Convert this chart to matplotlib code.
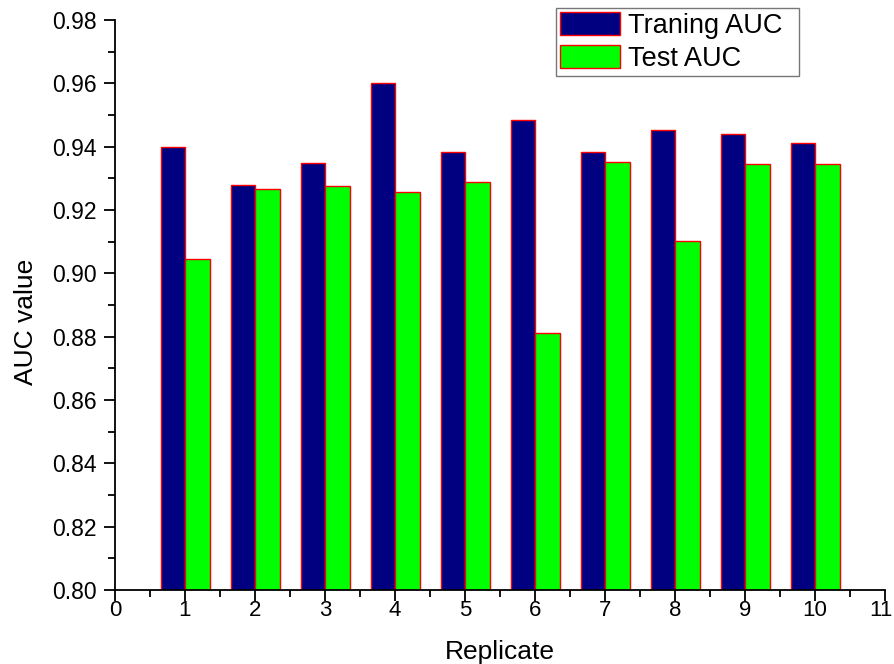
import matplotlib
matplotlib.use("Agg")
import matplotlib.pyplot as plt
import matplotlib.transforms as mtransforms
from matplotlib.ticker import MultipleLocator, FormatStrFormatter
import numpy as np

replicates = [1, 2, 3, 4, 5, 6, 7, 8, 9, 10]
training_auc = [0.940, 0.928, 0.9347, 0.960, 0.9382, 0.9484, 0.9382, 0.9453, 0.9439, 0.9411]
test_auc = [0.9046, 0.9265, 0.9275, 0.9257, 0.9289, 0.8812, 0.9352, 0.9102, 0.9346, 0.9344]
series_names = ["Traning AUC", "Test AUC"]
x_ticks = list(range(0, 12))

plt.rcParams['font.family'] = ['Liberation Sans', 'DejaVu Sans']

fig = plt.figure(figsize=(8.94, 6.64), dpi=100)
ax = fig.add_axes([115/894, 1 - 590/664, (885 - 115)/894, (590 - 20)/664])

x = np.array(replicates, dtype=float)
w = 0.35
ax.bar(x - w/2, training_auc, width=w, color='#000080', edgecolor='#ff0000',
       linewidth=1.0, label=series_names[0], bottom=0)
ax.bar(x + w/2, test_auc, width=w, color='#00ff00', edgecolor='#ff0000',
       linewidth=1.0, label=series_names[1], bottom=0)

ax.set_xlim(0, 11)
ax.set_ylim(0.80, 0.98)
ax.set_xticks(x_ticks)
ax.set_xticklabels([str(t) for t in x_ticks])
ax.xaxis.set_minor_locator(MultipleLocator(0.5))
ax.yaxis.set_major_locator(MultipleLocator(0.02))
ax.yaxis.set_minor_locator(MultipleLocator(0.01))
ax.yaxis.set_major_formatter(FormatStrFormatter('%.2f'))

for s in ['top', 'right']:
    ax.spines[s].set_visible(False)
for s in ['left', 'bottom']:
    ax.spines[s].set_linewidth(1.3)

ax.tick_params(axis='both', which='major', direction='out', length=8, width=1.3)
ax.tick_params(axis='both', which='minor', direction='out', length=5, width=1.3)
ax.tick_params(axis='x', which='major', labelsize=16, pad=-1)
ax.tick_params(axis='y', which='major', labelsize=16.5, pad=5)

ax.set_xlabel('Replicate', fontsize=19, labelpad=14)
ax.set_ylabel('AUC value', fontsize=19, labelpad=10, y=0.47)

# nudge the "11" tick label slightly left so it stays inside the canvas
for lab in ax.get_xticklabels():
    if lab.get_text() == '11':
        lab.set_horizontalalignment('right')
        lab.set_transform(lab.get_transform() +
                          mtransforms.ScaledTranslation(8/100, 0, fig.dpi_scale_trans))

leg = ax.legend(loc='upper left',
                bbox_to_anchor=(556/894, 1 - 75/664, 243/894, 67/664),
                bbox_transform=fig.transFigure, mode='expand', fontsize=19.5,
                frameon=True, fancybox=False, edgecolor='#555555',
                handlelength=2.2, handleheight=0.9, borderpad=0.15,
                labelspacing=0.25, handletextpad=0.3, borderaxespad=0)
leg.get_frame().set_linewidth(1.0)

fig.savefig('out.png', dpi=100)
